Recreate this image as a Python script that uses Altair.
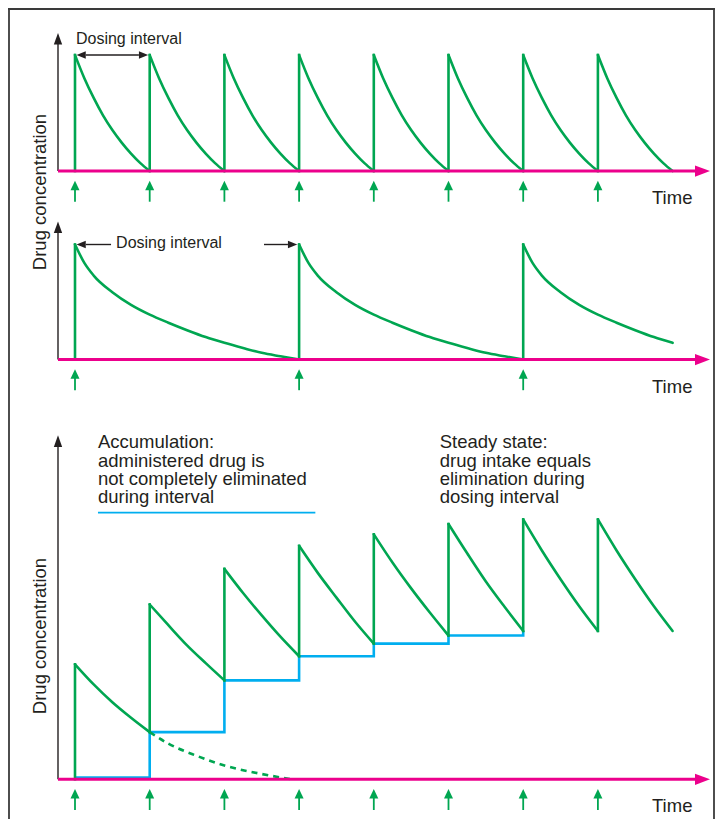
import altair as alt
import pandas as pd

# ------------------------------------------------------------------ data
# dosing times (h)
DOSE_TIMES = [0, 4, 8, 12, 16, 20, 24, 28]      # panels 1 and 3
DOSE_TIMES_LONG = [0, 12, 24]                    # panel 2
END_TIME = 32

# panel 1: one dosing interval, drug fully eliminated (relative concentration)
P1_T = [0, 0.5, 1, 1.5, 2, 2.5, 3, 3.5, 4]
P1_C = [100, 80, 63, 48, 35.3, 24.5, 15, 6.8, 0]

# panel 2: long dosing interval
P2_T = [0, 0.5, 1, 2, 3, 4, 5, 6, 7, 8, 9, 10, 11, 12]
P2_C = [100, 84, 73, 58.5, 47.5, 39, 32, 25.5, 19.5, 14.5, 10, 5.8, 2.8, 0]

# panel 3: accumulation to steady state (values at 0..4 h after each dose)
P3_T = [0, 1, 2, 3, 4]
P3_C = [
    [100, 82.5, 67, 53.5, 41],
    [152, 134, 116.5, 101, 86],
    [183, 162, 142.5, 124, 107],
    [203, 179.5, 158, 137, 118],
    [213, 188.5, 166, 145, 125],
    [222, 196.5, 172, 150, 129],
    [226, 199, 174, 150.5, 129],
    [226, 199, 174, 150.5, 129],
]
BLUE_LEVELS = [1.5, 41, 86, 107, 118, 125, 129]
DASH_T = [4, 5, 6.5, 8, 10, 11.6]
DASH_C = [41, 31, 20.5, 12, 4.6, 0]

LBL_DOSING = "Dosing interval"
LBL_TIME = "Time"
LBL_YAXIS = "Drug concentration"
LBL_ACCUM = "Accumulation:\nadministered drug is\nnot completely eliminated\nduring interval"
LBL_STEADY = "Steady state:\ndrug intake equals\nelimination during\ndosing interval"

# ------------------------------------------------------------------ layout
W, H = 707, 811
X0_PX, PX_PER_H = 67, 18.675
X_DOM = [-X0_PX / PX_PER_H, (W - X0_PX) / PX_PER_H]
PANELS = {1: (163.0, 1.16), 2: (351.5, 1.15), 3: (771.3, 1.15)}  # baseline px, px per unit
Y_DOM = {p: [(b - H) / k, b / k] for p, (b, k) in PANELS.items()}

GREEN = "#00a651"
MAGENTA = "#ec008c"
BLUE = "#00aeef"
BLACK = "#231f20"
FONT = "Liberation Sans"

XS = alt.Scale(domain=X_DOM, nice=False, zero=False)


def X(f):
    return alt.X(f, type="quantitative", scale=XS, axis=None)


def Y(f, p):
    return alt.Y(f, type="quantitative", axis=None,
                 scale=alt.Scale(domain=Y_DOM[p], nice=False, zero=False))


def u(px, p):
    return px / PANELS[p][1]


def head(shape, size, color):
    return dict(shape=shape, size=size, filled=True, opacity=1, color=color, strokeWidth=0)


layers = []

# ------------------------------------------------------------------ green curves
rows1 = [dict(seg=i, t=d + tt, c=cc) for i, d in enumerate(DOSE_TIMES)
         for tt, cc in zip(P1_T, P1_C)]
rows2 = [dict(seg=i, t=d + tt, c=cc) for i, d in enumerate(DOSE_TIMES_LONG)
         for tt, cc in zip(P2_T, P2_C) if d + tt <= END_TIME]
rows3 = [dict(seg=i, t=d + tt, c=cc) for i, d in enumerate(DOSE_TIMES)
         for tt, cc in zip(P3_T, P3_C[i])]

vert1 = pd.DataFrame([dict(t=d, c0=0, c1=P1_C[0]) for d in DOSE_TIMES])
vert2 = pd.DataFrame([dict(t=d, c0=0, c1=P2_C[0]) for d in DOSE_TIMES_LONG])
vert3 = pd.DataFrame([dict(t=d, c0=(0 if i == 0 else P3_C[i - 1][-1]), c1=P3_C[i][0])
                      for i, d in enumerate(DOSE_TIMES)])

# blue step line
blue_pts = [(DOSE_TIMES[0], BLUE_LEVELS[0])]
for j in range(1, len(BLUE_LEVELS)):
    blue_pts.append((DOSE_TIMES[j], BLUE_LEVELS[j - 1]))
    blue_pts.append((DOSE_TIMES[j], BLUE_LEVELS[j]))
blue_df = pd.DataFrame([dict(i=i, t=t, c=c) for i, (t, c) in enumerate(blue_pts)])

layers.append(alt.Chart(blue_df).mark_line(color=BLUE, strokeWidth=2.6, strokeJoin="miter")
              .encode(x=X("t"), y=Y("c", 3), order=alt.Order("i:Q")))

for p, rows, vdf in [(1, rows1, vert1), (2, rows2, vert2), (3, rows3, vert3)]:
    layers.append(alt.Chart(pd.DataFrame(rows)).mark_line(
        color=GREEN, strokeWidth=2.6, interpolate="monotone", strokeCap="round")
        .encode(x=X("t"), y=Y("c", p), detail="seg:N"))
    layers.append(alt.Chart(vdf).mark_rule(color=GREEN, strokeWidth=2.6, strokeCap="square")
                  .encode(x=X("t"), y=Y("c0", p), y2=alt.Y2("c1")))

dash_df = pd.DataFrame(dict(t=DASH_T, c=DASH_C))
layers.append(alt.Chart(dash_df).mark_line(color=GREEN, strokeWidth=2.6, strokeDash=[6, 5],
                                           interpolate="monotone")
              .encode(x=X("t"), y=Y("c", 3)))

# ------------------------------------------------------------------ axes per panel
T_YAXIS = (55 - 72) / PX_PER_H
T_XEND = (694 - 72) / PX_PER_H
T_XHEAD = (699.5 - 72) / PX_PER_H
T_TIME = (649 - 72) / PX_PER_H
TIP_PX = {1: 138, 2: 138, 3: 344}

for p, doses in [(1, DOSE_TIMES), (2, DOSE_TIMES_LONG), (3, DOSE_TIMES)]:
    # black y axis
    ax = pd.DataFrame([dict(t=T_YAXIS, c0=0, c1=u(TIP_PX[p] - 8, p), ch=u(TIP_PX[p] - 5.8, p))])
    layers.append(alt.Chart(ax).mark_rule(color=BLACK, strokeWidth=1.4)
                  .encode(x=X("t"), y=Y("c0", p), y2=alt.Y2("c1")))
    layers.append(alt.Chart(ax).mark_point(**head("M0,-1L0.72,1L-0.72,1Z", 134, BLACK))
                  .encode(x=X("t"), y=Y("ch", p)))
    # magenta time axis
    mx = pd.DataFrame([dict(t0=T_YAXIS, t1=T_XEND, th=T_XHEAD, c=0)])
    layers.append(alt.Chart(mx).mark_rule(color=MAGENTA, strokeWidth=3)
                  .encode(x=X("t0"), x2=alt.X2("t1"), y=Y("c", p)))
    layers.append(alt.Chart(mx).mark_point(**head("M1,0L-1,0.75L-1,-0.75Z", 225, MAGENTA))
                  .encode(x=X("th"), y=Y("c", p)))
    # dose arrows
    da = pd.DataFrame([dict(t=d, s0=u(-30.7, p), s1=u(-18, p), h=u(-14.4, p)) for d in doses])
    layers.append(alt.Chart(da).mark_rule(color=GREEN, strokeWidth=1.8)
                  .encode(x=X("t"), y=Y("s0", p), y2=alt.Y2("s1")))
    layers.append(alt.Chart(da).mark_point(**head("M0,-1L0.95,1L-0.95,1Z", 90, GREEN))
                  .encode(x=X("t"), y=Y("h", p)))
    # Time label
    tl = pd.DataFrame([dict(t=T_TIME, c=u(-33, p), label=LBL_TIME)])
    layers.append(alt.Chart(tl).mark_text(align="left", baseline="alphabetic", fontSize=18.5,
                                          font=FONT, color=BLACK)
                  .encode(x=X("t"), y=Y("c", p), text="label:N"))

# ------------------------------------------------------------------ dosing-interval annotations
LEFT_HEAD = "M-1,0L1,0.8L1,-0.8Z"
RIGHT_HEAD = "M1,0L-1,0.8L-1,-0.8Z"
HEAD_HALF = 4.65 / PX_PER_H

# panel 1: double arrow
a1 = pd.DataFrame([dict(t0=0.08 + 2 * HEAD_HALF, t1=3.92 - 2 * HEAD_HALF, c=100,
                        hl=0.08 + HEAD_HALF, hr=3.92 - HEAD_HALF)])
layers.append(alt.Chart(a1).mark_rule(color=BLACK, strokeWidth=1.4)
              .encode(x=X("t0"), x2=alt.X2("t1"), y=Y("c", 1)))
layers.append(alt.Chart(a1).mark_point(**head(LEFT_HEAD, 86, BLACK))
              .encode(x=X("hl"), y=Y("c", 1)))
layers.append(alt.Chart(a1).mark_point(**head(RIGHT_HEAD, 86, BLACK))
              .encode(x=X("hr"), y=Y("c", 1)))
layers.append(alt.Chart(pd.DataFrame([dict(t=0.05, c=u(127, 1), label=LBL_DOSING)]))
              .mark_text(align="left", baseline="alphabetic", fontSize=16, font=FONT, color=BLACK)
              .encode(x=X("t"), y=Y("c", 1), text="label:N"))

# panel 2: split arrows around text
a2 = pd.DataFrame([
    dict(t0=0.08 + 2 * HEAD_HALF, t1=1.93, h=0.08 + HEAD_HALF, c=100, side="L"),
    dict(t0=10.12, t1=11.9 - 2 * HEAD_HALF, h=11.9 - HEAD_HALF, c=100, side="R"),
])
layers.append(alt.Chart(a2).mark_rule(color=BLACK, strokeWidth=1.4)
              .encode(x=X("t0"), x2=alt.X2("t1"), y=Y("c", 2)))
layers.append(alt.Chart(a2[a2.side == "L"]).mark_point(**head(LEFT_HEAD, 86, BLACK))
              .encode(x=X("h"), y=Y("c", 2)))
layers.append(alt.Chart(a2[a2.side == "R"]).mark_point(**head(RIGHT_HEAD, 86, BLACK))
              .encode(x=X("h"), y=Y("c", 2)))
layers.append(alt.Chart(pd.DataFrame([dict(t=2.2, c=u(111.2, 2), label=LBL_DOSING)]))
              .mark_text(align="left", baseline="alphabetic", fontSize=16, font=FONT, color=BLACK)
              .encode(x=X("t"), y=Y("c", 2), text="label:N"))

# ------------------------------------------------------------------ panel 3 texts
txt3 = pd.DataFrame([dict(t=1.23, c=u(331, 3), label=LBL_ACCUM),
                     dict(t=19.53, c=u(331, 3), label=LBL_STEADY)])
layers.append(alt.Chart(txt3).mark_text(align="left", baseline="alphabetic", fontSize=18.5,
                                        lineHeight=18.3, lineBreak="\n", font=FONT, color=BLACK)
              .encode(x=X("t"), y=Y("c", 3), text="label:N"))
ul = pd.DataFrame([dict(t0=1.23, t1=12.87, c=u(266.6, 3))])
layers.append(alt.Chart(ul).mark_rule(color=BLUE, strokeWidth=1.8)
              .encode(x=X("t0"), x2=alt.X2("t1"), y=Y("c", 3)))

# ------------------------------------------------------------------ y-axis titles
T_YLBL = (43.3 - 72) / PX_PER_H
layers.append(alt.Chart(pd.DataFrame([dict(t=T_YLBL, c=u(-21, 1), label=LBL_YAXIS)]))
              .mark_text(angle=270, align="center", baseline="alphabetic", fontSize=18.5,
                         font=FONT, color=BLACK)
              .encode(x=X("t"), y=Y("c", 1), text="label:N"))
layers.append(alt.Chart(pd.DataFrame([dict(t=T_YLBL, c=u(143.3, 3), label=LBL_YAXIS)]))
              .mark_text(angle=270, align="center", baseline="alphabetic", fontSize=18.5,
                         font=FONT, color=BLACK)
              .encode(x=X("t"), y=Y("c", 3), text="label:N"))

# ------------------------------------------------------------------ frame (left, top, right)
one = pd.DataFrame({"a": [0]})
FRAME = "#3a3a3a"
layers.append(alt.Chart(one).mark_rule(color=FRAME, strokeWidth=1.8)
              .encode(x=alt.value(1), y=alt.value(0), y2=alt.value(H)))
layers.append(alt.Chart(one).mark_rule(color=FRAME, strokeWidth=1.8)
              .encode(x=alt.value(0), x2=alt.value(W), y=alt.value(1)))
layers.append(alt.Chart(one).mark_rule(color=FRAME, strokeWidth=1.8)
              .encode(x=alt.value(W - 1), y=alt.value(0), y2=alt.value(H)))

chart = (alt.layer(*layers)
         .resolve_scale(y="independent")
         .properties(width=W, height=H, padding=0,
                     autosize=alt.AutoSizeParams(type="none"))
         .configure_view(stroke=None))

chart.save("out.html", embed_options={"renderer": "svg", "actions": False})
